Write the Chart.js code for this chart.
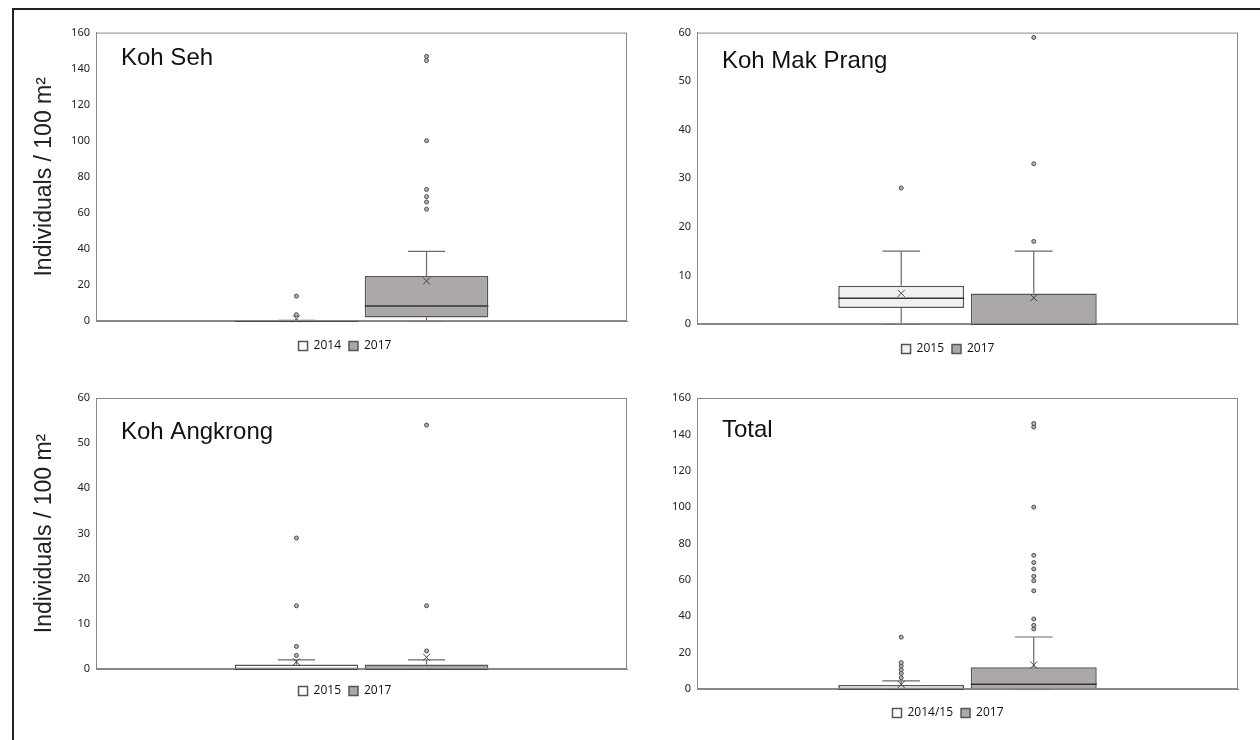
<!DOCTYPE html>
<html>
<head>
<meta charset="utf-8">
<script src="https://cdn.jsdelivr.net/npm/chart.js@4.4.1/dist/chart.umd.min.js"></script>
<style>
  body { margin: 0; background: #fff; }
  #frame { position: absolute; left: 12px; top: 8px; width: 1260px; height: 740px;
           border-left: 2px solid #222; border-top: 2px solid #222; }
  canvas { position: absolute; }
</style>
</head>
<body>
<div id="frame"></div>
<canvas id="kohSeh" width="650" height="342" style="left:20px;top:20px"></canvas>
<canvas id="kohMakPrang" width="616" height="345" style="left:640px;top:20px"></canvas>
<canvas id="kohAngkrong" width="650" height="322" style="left:20px;top:385px"></canvas>
<canvas id="total" width="616" height="344" style="left:640px;top:385px"></canvas>
<script>
// box plot stats, order = [earlier survey, 2017]
const kohSehYears = ['2014', '2017'];
const kohSehQ1 = [0, 2];
const kohSehMedian = [0, 8.3];
const kohSehQ3 = [0.4, 25];
const kohSehLow = [0, 0];
const kohSehHigh = [0.4, 38.6];
const kohSehMean = [1.2, 22.2];
const kohSehOutliers = [[3.5, 13.8], [62, 66, 69, 73, 100, 144.5, 146.8]];

const kohMakPrangYears = ['2015', '2017'];
const kohMakPrangQ1 = [3.3, 0];
const kohMakPrangMedian = [5.3, 0];
const kohMakPrangQ3 = [7.9, 6.3];
const kohMakPrangLow = [0, 0];
const kohMakPrangHigh = [15, 15];
const kohMakPrangMean = [6.3, 5.4];
const kohMakPrangOutliers = [[28], [17, 33, 59]];

const kohAngkrongYears = ['2015', '2017'];
const kohAngkrongQ1 = [0, 0];
const kohAngkrongMedian = [0, 0];
const kohAngkrongQ3 = [1, 1];
const kohAngkrongLow = [0, 0];
const kohAngkrongHigh = [2, 2];
const kohAngkrongMean = [1.6, 2.6];
const kohAngkrongOutliers = [[3, 5, 14, 29], [4, 14, 54]];

const totalYears = ['2014/15', '2017'];
const totalQ1 = [0, 0];
const totalMedian = [0, 2.6];
const totalQ3 = [2.2, 11.9];
const totalLow = [0, 0];
const totalHigh = [4.5, 28.6];
const totalMean = [2.5, 13.2];
const totalOutliers = [[6.2, 8.6, 10.6, 12.7, 14.5, 28.5],
                       [33, 35, 38.5, 54, 59.5, 62, 66, 69.5, 73.5, 100, 144, 146]];

const fills = ['#ffffff', '#aba8a7'];
const fillsLight = ['#f1f1f1', '#aba8a7'];
const font = '"Liberation Sans", Arial, sans-serif';

// whiskers, median, mean and outliers on top of the floating bars
const boxExtras = {
  id: 'boxExtras',
  afterDatasetsDraw(chart, args, opts) {
    const { ctx, chartArea: a } = chart;
    const y = chart.scales.y;
    const py = v => y.getPixelForValue(v);
    chart.data.datasets.forEach((ds, i) => {
      const bar = chart.getDatasetMeta(i).data[0];
      const x = bar.x, half = bar.width / 2, cap = bar.width * 0.15;
      ctx.save();
      ctx.strokeStyle = '#6a6a6a';
      ctx.lineWidth = 1.2;
      ctx.beginPath();
      ctx.moveTo(x, py(ds.q3)); ctx.lineTo(x, py(ds.high));
      ctx.moveTo(x - cap, py(ds.high)); ctx.lineTo(x + cap, py(ds.high));
      ctx.moveTo(x, py(ds.q1)); ctx.lineTo(x, py(ds.low));
      ctx.moveTo(x - cap, py(ds.low)); ctx.lineTo(x + cap, py(ds.low));
      ctx.stroke();

      ctx.strokeStyle = '#333';
      ctx.lineWidth = 1.5;
      ctx.beginPath();
      ctx.moveTo(x - half, py(ds.median)); ctx.lineTo(x + half, py(ds.median));
      ctx.stroke();

      const my = py(ds.mean), s = 3.5;
      ctx.strokeStyle = '#444';
      ctx.lineWidth = 1;
      ctx.beginPath();
      ctx.moveTo(x - s, my - s); ctx.lineTo(x + s, my + s);
      ctx.moveTo(x + s, my - s); ctx.lineTo(x - s, my + s);
      ctx.stroke();

      ctx.fillStyle = '#b5b5b5';
      ctx.strokeStyle = '#4a4a4a';
      ds.outliers.forEach(v => {
        ctx.beginPath();
        ctx.arc(x, py(v), 2, 0, Math.PI * 2);
        ctx.fill();
        ctx.stroke();
      });
      ctx.restore();
    });

    ctx.save();
    ctx.strokeStyle = '#888';
    ctx.lineWidth = 1;
    ctx.strokeRect(a.left + 0.5, a.top + 0.5, a.right - a.left - 1, a.bottom - a.top - 1);
    ctx.fillStyle = '#111';
    ctx.font = '24px ' + font;
    ctx.textBaseline = 'middle';
    ctx.fillText(opts.title, a.left + 25, a.top + opts.titleDy);
    ctx.restore();
  }
};

function drawPanel(id, p) {
  const datasets = p.years.map((yr, i) => ({
    label: yr,
    data: [[p.q1[i], p.q3[i]]],
    q1: p.q1[i], q3: p.q3[i], median: p.median[i],
    low: p.low[i], high: p.high[i], mean: p.mean[i],
    outliers: p.outliers[i],
    backgroundColor: p.fills[i],
    borderColor: '#555',
    borderWidth: 1.5,
    borderSkipped: false,
    categoryPercentage: 0.49,
    barPercentage: 0.95
  }));

  new Chart(document.getElementById(id), {
    type: 'bar',
    data: { labels: [''], datasets },
    options: {
      responsive: false,
      animation: false,
      devicePixelRatio: 1,
      layout: { padding: { top: p.top } },
      scales: {
        x: {
          grid: { display: false },
          ticks: { display: false },
          border: { color: '#888' },
          afterFit(scale) { scale.height += p.xExtra; }
        },
        y: {
          min: 0,
          max: p.max,
          ticks: { stepSize: p.step, padding: 6, color: '#222', font: { family: '"Noto Sans"', size: 11 } },
          grid: { display: false, drawTicks: false },
          border: { color: '#888' },
          title: {
            display: !!p.yTitle,
            text: p.yTitle || '',
            color: '#222',
            font: { family: font, size: 23 },
            padding: { top: 11, bottom: 0 }
          },
          afterFit(scale) { scale.width = p.yWidth; }
        },
        // empty spacer on the right so the legend stays centred under the panel
        pad: {
          position: 'right',
          display: true,
          grid: { display: false, drawTicks: false },
          ticks: { display: false },
          border: { display: false },
          afterFit(scale) { scale.width = p.rightPad; }
        }
      },
      plugins: {
        legend: {
          position: 'bottom',
          labels: {
            boxWidth: 9, boxHeight: 9, padding: 8,
            color: '#111',
            font: { family: '"Open Sans"', size: 12 }
          }
        },
        tooltip: { enabled: false },
        boxExtras: { title: p.title, titleDy: p.titleDy }
      }
    },
    plugins: [boxExtras]
  });
}

const yTitle = 'Individuals / 100 m\u00B2';

drawPanel('kohSeh', {
  title: 'Koh Seh', titleDy: 26, years: kohSehYears, q1: kohSehQ1, q3: kohSehQ3,
  median: kohSehMedian, low: kohSehLow, high: kohSehHigh, mean: kohSehMean,
  outliers: kohSehOutliers, fills: fills, max: 160, step: 20,
  yTitle: yTitle, yWidth: 76, top: 8, rightPad: 43, xExtra: 3
});
drawPanel('kohMakPrang', {
  title: 'Koh Mak Prang', titleDy: 29, years: kohMakPrangYears, q1: kohMakPrangQ1, q3: kohMakPrangQ3,
  median: kohMakPrangMedian, low: kohMakPrangLow, high: kohMakPrangHigh, mean: kohMakPrangMean,
  outliers: kohMakPrangOutliers, fills: fillsLight, max: 60, step: 10,
  yWidth: 57, top: 8, rightPad: 18, xExtra: 3
});
drawPanel('kohAngkrong', {
  title: 'Koh Angkrong', titleDy: 34, years: kohAngkrongYears, q1: kohAngkrongQ1, q3: kohAngkrongQ3,
  median: kohAngkrongMedian, low: kohAngkrongLow, high: kohAngkrongHigh, mean: kohAngkrongMean,
  outliers: kohAngkrongOutliers, fills: fills, max: 60, step: 10,
  yTitle: yTitle, yWidth: 76, top: 13, rightPad: 43, xExtra: 0
});
drawPanel('total', {
  title: 'Total', titleDy: 32, years: totalYears, q1: totalQ1, q3: totalQ3,
  median: totalMedian, low: totalLow, high: totalHigh, mean: totalMean,
  outliers: totalOutliers, fills: fills, max: 160, step: 20,
  yWidth: 57, top: 13, rightPad: 18, xExtra: 2
});
</script>
</body>
</html>
